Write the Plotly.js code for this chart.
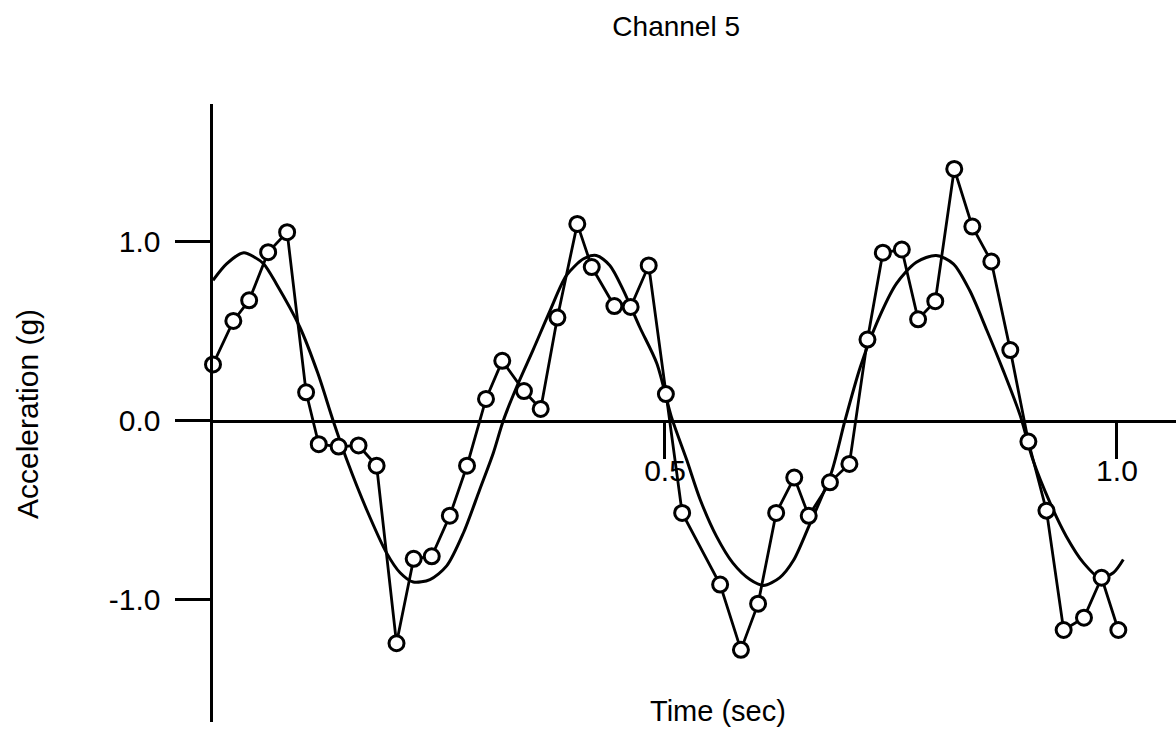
<!DOCTYPE html>
<html>
<head>
<meta charset="utf-8">
<script src="https://cdn.plot.ly/plotly-3.0.1.min.js"></script>
<style>html,body{margin:0;padding:0;background:#fff;}#chart{width:1176px;height:736px;}</style>
</head>
<body>
<div id="chart"></div>
<script>
// Measured samples (time in sec, acceleration in g)
const sampleTime = [0.000,0.0225,0.040,0.061,0.082,0.103,0.117,0.139,0.161,0.181,0.203,0.222,0.242,0.262,0.281,0.302,0.320,0.344,0.3625,0.381,0.403,0.419,0.444,0.462,0.482,0.501,0.519,0.561,0.584,0.603,0.623,0.643,0.659,0.6825,0.704,0.724,0.741,0.762,0.780,0.799,0.820,0.840,0.861,0.882,0.902,0.922,0.941,0.9635,0.983,1.0015];
const sampleAccel = [0.316,0.559,0.674,0.943,1.055,0.16,-0.13,-0.143,-0.137,-0.25,-1.242,-0.77,-0.756,-0.529,-0.25,0.123,0.336,0.167,0.067,0.578,1.101,0.86,0.642,0.637,0.869,0.150,-0.514,-0.914,-1.279,-1.021,-0.514,-0.316,-0.53,-0.343,-0.24,0.455,0.94,0.958,0.568,0.669,1.408,1.086,0.891,0.396,-0.115,-0.501,-1.168,-1.099,-0.876,-1.168];

// Smooth fitted curve
const fitTime = [0.000,0.015,0.034,0.046,0.056,0.070,0.096,0.116,0.133,0.148,0.170,0.192,0.207,0.2215,0.240,0.2585,0.277,0.295,0.310,0.321,0.336,0.354,0.373,0.391,0.410,0.424,0.439,0.454,0.472,0.491,0.507,0.524,0.539,0.557,0.575,0.594,0.609,0.627,0.642,0.659,0.684,0.699,0.716,0.734,0.756,0.778,0.800,0.819,0.837,0.856,0.874,0.893,0.907,0.926,0.944,0.963,0.981,0.996,1.007];
const fitAccel = [0.786,0.878,0.940,0.915,0.878,0.767,0.525,0.266,0.0,-0.217,-0.496,-0.737,-0.848,-0.90,-0.886,-0.81,-0.626,-0.384,-0.18,0.0,0.191,0.396,0.618,0.813,0.906,0.925,0.869,0.73,0.525,0.321,0.024,-0.217,-0.44,-0.645,-0.793,-0.886,-0.919,-0.875,-0.78,-0.59,-0.29,0.0,0.30,0.544,0.767,0.887,0.925,0.878,0.73,0.507,0.284,0.03,-0.217,-0.458,-0.645,-0.793,-0.876,-0.848,-0.774];

const xTickVals = [0.5, 1.0];
const xTickText = ['0.5', '1.0'];
const yTickVals = [-1, 0, 1];
const yTickText = ['-1.0', '0.0', '1.0'];

const FONT = '"Liberation Sans", Arial, Helvetica, sans-serif';
const yRange = [-1.682, 1.771];
const xRange = [0, 1.0653];

const traces = [
  {
    x: fitTime, y: fitAccel, type: 'scatter', mode: 'lines',
    line: {color: '#000', width: 3, shape: 'spline', smoothing: 0.8},
    cliponaxis: false, hoverinfo: 'skip', showlegend: false
  },
  {
    x: sampleTime, y: sampleAccel, type: 'scatter', mode: 'lines+markers',
    line: {color: '#000', width: 2.8},
    marker: {symbol: 'circle', size: 15, color: '#fff', line: {color: '#000', width: 3}},
    cliponaxis: false, showlegend: false
  }
];

const layout = {
  width: 1176, height: 736,
  margin: {l: 213, r: 0, t: 104, b: 14},
  paper_bgcolor: '#fff', plot_bgcolor: '#fff',
  font: {family: FONT, color: '#000', size: 30},
  showlegend: false,
  title: {text: 'Channel 5', font: {family: FONT, size: 28, color: '#000'},
          xref: 'container', x: 0.575, xanchor: 'center', yref: 'container', y: 0.965, yanchor: 'middle'},
  xaxis: {
    range: xRange, showgrid: false, zeroline: false,
    showline: true, linecolor: '#000', linewidth: 3,
    anchor: 'free', position: (0 - yRange[0]) / (yRange[1] - yRange[0]),
    tickmode: 'array', tickvals: xTickVals, ticktext: xTickText,
    ticks: 'outside', ticklen: 36, tickwidth: 3, tickcolor: '#000',
    ticklabelstandoff: -14,
    tickfont: {family: FONT, size: 30, color: '#000'}
  },
  yaxis: {
    range: yRange, showgrid: false, zeroline: false,
    showline: true, linecolor: '#000', linewidth: 3.5,
    tickmode: 'array', tickvals: yTickVals, ticktext: yTickText,
    ticks: 'outside', ticklen: 35, tickwidth: 3, tickcolor: '#000',
    ticklabelstandoff: 8,
    tickfont: {family: FONT, size: 30, color: '#000'}
  },
  annotations: [
    {text: 'Acceleration (g)', xref: 'paper', yref: 'paper', x: (28 - 213) / 963, y: (722 - 414) / 618,
     xanchor: 'center', yanchor: 'middle', textangle: -90, showarrow: false,
     font: {family: FONT, size: 30, color: '#000'}},
    {text: 'Time (sec)', xref: 'paper', yref: 'paper', x: (718 - 213) / 963, y: (722 - 711) / 618,
     xanchor: 'center', yanchor: 'middle', showarrow: false,
     font: {family: FONT, size: 29, color: '#000'}}
  ]
};

Plotly.newPlot('chart', traces, layout, {displayModeBar: false, staticPlot: true});
</script>
</body>
</html>
